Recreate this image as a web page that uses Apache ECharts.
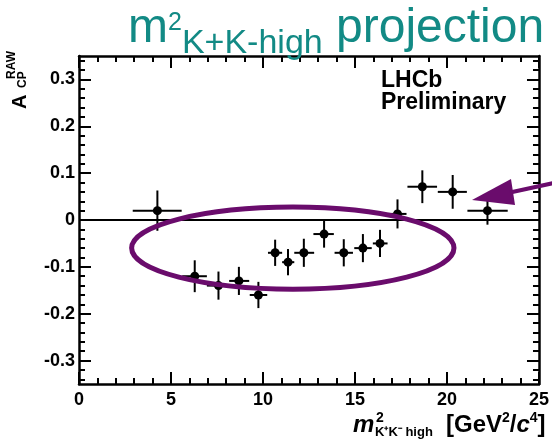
<!DOCTYPE html>
<html><head><meta charset="utf-8">
<script src="https://cdn.jsdelivr.net/npm/echarts@6/dist/echarts.min.js"></script>
<style>html,body{margin:0;padding:0;background:#fff}#c{width:552px;height:445px}</style>
</head><body><div id="c"></div>
<script>
// ---- data ----
const xValues = [4.26, 6.29, 7.58, 8.69, 9.75, 10.66, 11.36, 12.22, 13.32, 14.39, 15.43, 16.36, 17.31, 18.66, 20.31, 22.2];
const yValues = [0.02, -0.12, -0.14, -0.13, -0.16, -0.07, -0.09, -0.07, -0.03, -0.07, -0.06, -0.05, 0.013, 0.071, 0.06, 0.02];
const xLow    = [2.92, 5.61, 6.95, 8.16, 9.28, 10.27, 11.04, 11.7, 12.74, 13.89, 14.96, 15.97, 16.81, 17.85, 19.5, 21.11];
const xHigh   = [5.58, 6.95, 8.2, 9.25, 10.23, 11.04, 11.7, 12.78, 13.85, 14.89, 15.91, 16.77, 17.8, 19.46, 21.08, 23.3];
const yErr    = [0.043, 0.034, 0.030, 0.030, 0.028, 0.028, 0.028, 0.030, 0.029, 0.029, 0.030, 0.029, 0.031, 0.035, 0.036, 0.030];
const yTickLabels = [-0.3, -0.2, -0.1, 0, 0.1, 0.2, 0.3];
const yMinorTicks = [];
for (let i = -17; i <= 17; i++) yMinorTicks.push(Math.round(i * 2) / 100);
const ellipseCenter = [11.62, -0.06];
const ellipseRadii = [8.76, 0.0876];

const FONT = '"Liberation Sans", Arial, Helvetica, sans-serif';
const TEAL = '#128a85';
const PURPLE = '#6a0c6c';

const chart = echarts.init(document.getElementById('c'), null, {renderer: 'canvas'});
const frame = {color: '#000', width: 2.5};
const tickStyle = {color: '#000', width: 2};

function xAx(pos, showLabel) {
  return {
    type: 'value', position: pos, min: 0, max: 25, interval: 5, gridIndex: 0,
    axisLine: {show: true, onZero: false, lineStyle: frame},
    axisTick: {show: true, inside: true, length: 12, lineStyle: tickStyle},
    minorTick: {show: true, splitNumber: 5, length: 6, lineStyle: tickStyle},
    axisLabel: {show: showLabel, color: '#000', fontSize: 18, fontWeight: 'bold', fontFamily: FONT, margin: 7},
    splitLine: {show: false}, minorSplitLine: {show: false}
  };
}
function yAx(pos, ticks, len, showLabel, showLine) {
  const ax = {
    type: 'value', position: pos, min: -0.35, max: 0.35, gridIndex: 0,
    axisLine: {show: showLine, onZero: false, lineStyle: frame},
    axisTick: {show: true, inside: true, length: len, customValues: ticks, lineStyle: tickStyle},
    axisLabel: {show: showLabel, color: '#000', fontSize: 18, fontWeight: 'bold', fontFamily: FONT, margin: 4},
    splitLine: {show: false}, minorTick: {show: false}
  };
  if (showLabel) ax.axisLabel.customValues = yTickLabels;
  return ax;
}

chart.setOption({
  animation: false,
  backgroundColor: '#fff',
  grid: {left: 79, right: 8, top: 56, bottom: 61, containLabel: false},
  xAxis: [xAx('bottom', true), xAx('top', false)],
  yAxis: [
    yAx('left', yTickLabels, 12, true, true),
    yAx('left', yMinorTicks, 6, false, false),
    yAx('right', yTickLabels, 12, false, true),
    yAx('right', yMinorTicks, 6, false, false)
  ],
  series: [{
    type: 'custom', xAxisIndex: 0, yAxisIndex: 0,
    encode: {x: 0, y: 1},
    data: xValues.map((x, i) => [x, yValues[i], xLow[i], xHigh[i], yErr[i]]),
    renderItem: function (params, api) {
      const x = api.value(0), y = api.value(1), xl = api.value(2), xh = api.value(3), e = api.value(4);
      const c = api.coord([x, y]), l = api.coord([xl, y]), r = api.coord([xh, y]);
      const t = api.coord([x, y + e]), b = api.coord([x, y - e]);
      const ls = {stroke: '#000', lineWidth: 2};
      return {type: 'group', children: [
        {type: 'line', shape: {x1: l[0], y1: l[1], x2: r[0], y2: r[1]}, style: ls},
        {type: 'line', shape: {x1: t[0], y1: t[1], x2: b[0], y2: b[1]}, style: ls},
        {type: 'circle', shape: {cx: c[0], cy: c[1], r: 4.5}, style: {fill: '#000'}}
      ]};
    },
    markLine: {
      silent: true, symbol: ['none', 'none'], label: {show: false},
      lineStyle: {color: '#000', width: 2, type: 'solid'},
      data: [{yAxis: 0}]
    }
  }]
});

// ---- annotations ----
const mctx = document.createElement('canvas').getContext('2d');
function fontStr(p) {
  return (p.style || 'normal') + ' ' + (p.weight || 'normal') + ' ' + p.size + 'px ' + FONT;
}
function textRun(x, base, parts, color) {
  const els = []; let cx = x;
  parts.forEach(p => {
    const f = fontStr(p);
    mctx.font = f;
    const w = mctx.measureText(p.t).width;
    els.push({type: 'text', x: cx, y: base + (p.dy || 0) - 0.33 * p.size, z: 100, silent: true,
      style: {text: p.t, fill: color, font: f, textAlign: 'left', textVerticalAlign: 'middle'}});
    if (!p.noAdvance) cx += w;
  });
  return els;
}
function vText(x, y, t, size, weight) {
  return {type: 'text', x: x, y: y, rotation: Math.PI / 2, z: 100, silent: true,
    style: {text: t, fill: '#000', font: fontStr({size: size, weight: weight}), textAlign: 'left', textVerticalAlign: 'middle'}};
}

const c0 = chart.convertToPixel({seriesIndex: 0}, ellipseCenter);
const c1 = chart.convertToPixel({seriesIndex: 0}, [ellipseCenter[0] + ellipseRadii[0], ellipseCenter[1] + ellipseRadii[1]]);

let g = [];
// title
g = g.concat(textRun(128, 45, [
  {t: 'm', size: 48},
  {t: '2', size: 25, dy: -14},
  {t: 'K+K-high', size: 34, dy: 10},
  {t: ' projection', size: 48}
], TEAL));
// LHCb label
g = g.concat(textRun(381, 88, [{t: 'LHCb', size: 23, weight: 'bold'}], '#000'));
g = g.concat(textRun(381, 110, [{t: 'Preliminary', size: 23, weight: 'bold'}], '#000'));
// x axis title
g = g.concat(textRun(353, 433, [{t: 'm', size: 24, weight: 'bold', style: 'italic'}], '#000'));
g = g.concat(textRun(376, 423, [{t: '2', size: 14, weight: 'bold'}], '#000'));
g = g.concat(textRun(375, 437, [{t: 'K⁺K⁻ high', size: 13, weight: 'bold'}], '#000'));
g = g.concat(textRun(446, 433, [
  {t: '[GeV', size: 24, weight: 'bold'},
  {t: '2', size: 14, weight: 'bold', dy: -10},
  {t: '/', size: 24, weight: 'bold'},
  {t: 'c', size: 24, weight: 'bold', style: 'italic'},
  {t: '4', size: 14, weight: 'bold', dy: -10},
  {t: ']', size: 24, weight: 'bold'}
], '#000'));
// y axis title (rotated)
g.push(vText(27 - 0.33 * 20, 109, 'A', 20, 'bold'));
g.push(vText(26.5 - 0.33 * 12, 88, 'CP', 12, 'bold'));
g.push(vText(15.5 - 0.33 * 12, 79, 'RAW', 12, 'bold'));
// ellipse
g.push({type: 'ellipse', z: 90, silent: true,
  shape: {cx: c0[0], cy: c0[1], rx: c1[0] - c0[0], ry: c0[1] - c1[1]},
  style: {fill: 'none', stroke: PURPLE, lineWidth: 5}});
// arrow
g.push({type: 'polygon', z: 90, silent: true,
  shape: {points: [[472, 200], [511, 179], [515, 205]]}, style: {fill: PURPLE}});
g.push({type: 'line', z: 90, silent: true,
  shape: {x1: 510, y1: 192.5, x2: 556, y2: 182.5}, style: {stroke: PURPLE, lineWidth: 4}});

chart.setOption({graphic: {elements: g}});
</script>
</body></html>
